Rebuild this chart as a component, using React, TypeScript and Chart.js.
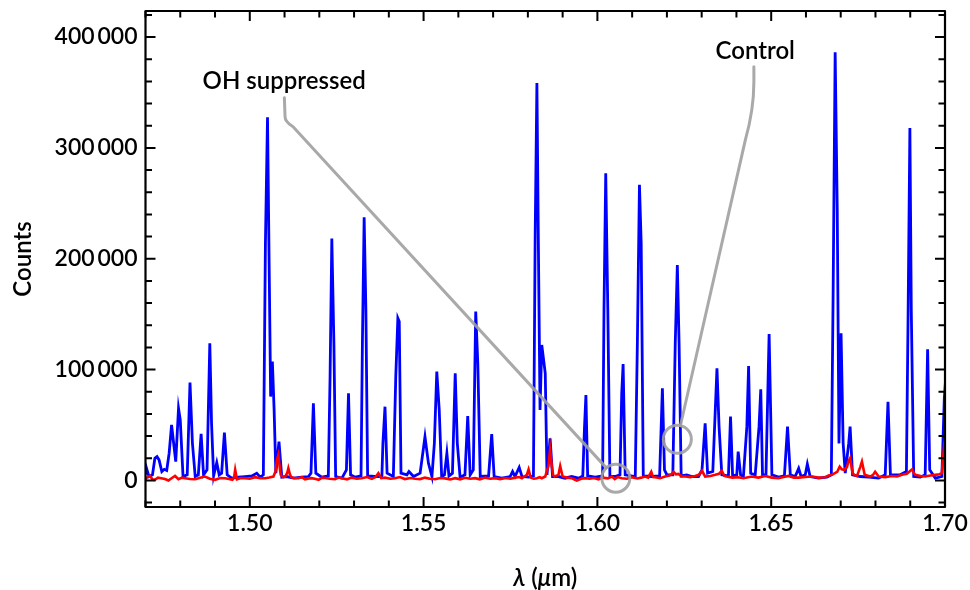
import React, { useEffect, useRef } from "react";
import { Chart, registerables } from "chart.js";
Chart.register(...registerables);

const xMin = 1.47;
const xMax = 1.7;
const yMin = -24000;
const yMax = 423500;
const xMajorTicks = [1.5, 1.55, 1.6, 1.65, 1.7];
const xMinorTicks = [1.47, 1.48, 1.49, 1.51, 1.52, 1.53, 1.54, 1.56, 1.57, 1.58, 1.59, 1.61, 1.62, 1.63, 1.64, 1.66, 1.67, 1.68, 1.69];
const yMajorTicks = [0, 100000, 200000, 300000, 400000];
const yMinorTicks = [-20000, 20000, 40000, 60000, 80000, 120000, 140000, 160000, 180000, 220000, 240000, 260000, 280000, 320000, 340000, 360000, 380000, 420000];

// Control (blue): [wavelength µm, counts]
const controlSpectrum: [number, number][] = [
  [1.469, 5000], [1.4699, 5000], [1.4703, 11000], [1.471, 3500], [1.472, 5000], [1.4727, 20000],
  [1.4733, 21500], [1.4739, 18500], [1.4747, 8000], [1.4754, 10000], [1.4761, 9000], [1.4768, 24500],
  [1.4775, 50000], [1.4781, 33500], [1.4787, 17000], [1.4795, 65000], [1.48, 54500], [1.4808, 3500],
  [1.482, 5000], [1.4828, 88300], [1.4835, 33500], [1.4843, 3500], [1.4852, 5000], [1.486, 42000],
  [1.4867, 5000], [1.4877, 9500], [1.4885, 123800], [1.489, 51600], [1.4896, 4000], [1.4905, 16100],
  [1.4912, 5000], [1.4919, 6500], [1.4927, 43200], [1.4935, 5000], [1.4948, 2000], [1.4967, 2900],
  [1.4986, 3500], [1.5006, 4000], [1.502, 6500], [1.503, 2900], [1.5039, 5000], [1.5045, 214000],
  [1.5051, 327700], [1.5055, 214000], [1.506, 75600], [1.5065, 107300], [1.507, 63600], [1.5075, 6500],
  [1.5084, 35000], [1.5092, 2900], [1.5106, 3500], [1.5126, 2000], [1.5149, 2900], [1.5169, 3500],
  [1.5176, 6500], [1.5183, 69500], [1.519, 6500], [1.5207, 2900], [1.5226, 4000], [1.5231, 93700],
  [1.5236, 218200], [1.5242, 123800], [1.5247, 3500], [1.5265, 2000], [1.5278, 9500], [1.5284, 78600],
  [1.529, 5000], [1.5303, 2900], [1.532, 4000], [1.5324, 123800], [1.5329, 237500], [1.5334, 153800],
  [1.5339, 4000], [1.536, 3500], [1.538, 3500], [1.5383, 33500], [1.5389, 66500], [1.5395, 6500],
  [1.5413, 3500], [1.542, 93700], [1.5426, 146300], [1.543, 143300], [1.5435, 6500], [1.5452, 5000],
  [1.5458, 8000], [1.5471, 3500], [1.549, 6500], [1.5504, 39400], [1.5514, 15400], [1.5524, 3500],
  [1.5531, 33500], [1.5538, 98100], [1.5545, 63600], [1.5552, 3500], [1.556, 5000], [1.5567, 24500],
  [1.5573, 4000], [1.5583, 6500], [1.5591, 96600], [1.5597, 33500], [1.5605, 2900], [1.5619, 5000],
  [1.5627, 58100], [1.5634, 5000], [1.5643, 9500], [1.565, 152300], [1.5656, 105700], [1.5663, 3500],
  [1.5687, 4000], [1.5696, 41800], [1.5703, 3500], [1.5725, 2000], [1.5749, 3500], [1.5756, 8000],
  [1.5763, 3500], [1.5775, 11700], [1.5783, 3500], [1.5802, 2900], [1.5816, 4000], [1.5821, 220000],
  [1.5826, 358500], [1.583, 220000], [1.5835, 63600], [1.584, 122200], [1.585, 96600], [1.5855, 5000],
  [1.5864, 37900], [1.5871, 3500], [1.5888, 3500], [1.5907, 2000], [1.5926, 3500], [1.5946, 2000],
  [1.5958, 4000], [1.5963, 48500], [1.5967, 77100], [1.5972, 4000], [1.5994, 2900], [1.6015, 4000],
  [1.6019, 153800], [1.6024, 277200], [1.603, 153800], [1.6036, 3500], [1.6051, 3500], [1.6065, 5000],
  [1.607, 78600], [1.6074, 105000], [1.608, 5000], [1.6109, 3500], [1.6115, 123800], [1.6121, 266700],
  [1.6126, 214000], [1.6132, 4000], [1.6157, 3500], [1.6179, 4000], [1.6187, 83100], [1.6193, 9500],
  [1.62, 5000], [1.6217, 5000], [1.6224, 123800], [1.623, 194400], [1.6235, 123800], [1.6241, 4000],
  [1.6257, 5000], [1.6272, 3500], [1.6291, 3500], [1.6301, 9500], [1.631, 51500], [1.6317, 6500],
  [1.6332, 8000], [1.6344, 101100], [1.635, 48500], [1.6358, 5000], [1.6377, 4000], [1.6383, 57500],
  [1.6389, 4000], [1.6401, 5000], [1.6405, 25900], [1.6412, 5000], [1.642, 3500], [1.643, 48500],
  [1.6435, 103200], [1.6441, 6500], [1.6454, 5000], [1.6465, 48500], [1.647, 82200], [1.6475, 5000],
  [1.6485, 5000], [1.6494, 132100], [1.6502, 5000], [1.6521, 2900], [1.6538, 4000], [1.6547, 48500],
  [1.6555, 5000], [1.6569, 3500], [1.6579, 10800], [1.6586, 3500], [1.6598, 5000], [1.6604, 14700],
  [1.6612, 3500], [1.6636, 2000], [1.666, 2900], [1.6673, 5000], [1.6678, 162800], [1.6684, 386200],
  [1.669, 244100], [1.6695, 33400], [1.6701, 132700], [1.6707, 33400], [1.6713, 6500], [1.6723, 33400],
  [1.6727, 48500], [1.6734, 5000], [1.6756, 3500], [1.678, 2900], [1.6809, 2000], [1.6828, 5000],
  [1.6836, 71000], [1.6843, 5000], [1.6871, 5000], [1.6889, 8000], [1.6894, 153800], [1.6899, 317900],
  [1.6903, 153800], [1.691, 3500], [1.6929, 2900], [1.6943, 5000], [1.695, 118300], [1.6956, 9500],
  [1.6972, 2000], [1.6991, 3500], [1.6998, 74000], [1.7006, 110000],
];

// OH suppressed (red): [wavelength µm, counts]
const suppressedSpectrum: [number, number][] = [
  [1.469, 1500], [1.4699, 1000], [1.4706, 3000], [1.4713, 4000], [1.472, 1000], [1.4727, 500],
  [1.4736, 2500], [1.4745, 2000], [1.4756, 1200], [1.4766, -150], [1.4776, 2200], [1.4785, 4000],
  [1.4795, 1000], [1.4805, 2500], [1.4814, 2000], [1.4828, 1200], [1.4843, 1000], [1.4857, 2400],
  [1.4871, 3500], [1.4885, 1500], [1.49, 500], [1.4915, 2200], [1.4929, 2000], [1.494, 1200],
  [1.495, 500], [1.4955, 3000], [1.4958, 9500], [1.4963, 1000], [1.4975, 2200], [1.4986, 2000],
  [1.5, 1500], [1.5015, 2900], [1.503, 2000], [1.5044, 2000], [1.5056, 2600], [1.5068, 3500],
  [1.5074, 8000], [1.5078, 18500], [1.5082, 23000], [1.5086, 12000], [1.5089, 5000], [1.5096, 3000],
  [1.5102, 3500], [1.5108, 7000], [1.5111, 11000], [1.5115, 6000], [1.5119, 2900], [1.513, 2000],
  [1.514, 2000], [1.515, 3000], [1.5159, 1000], [1.517, 1800], [1.5178, 2000], [1.519, 1200],
  [1.5198, 500], [1.5208, 2500], [1.5217, 2200], [1.523, 1500], [1.5245, 1000], [1.5255, 2600],
  [1.5265, 2000], [1.528, 1000], [1.5293, 2500], [1.5308, 1500], [1.5322, 2000], [1.5337, 3000],
  [1.5351, 1500], [1.5362, 3000], [1.537, 6500], [1.5378, 2000], [1.5389, 2500], [1.5404, 1500],
  [1.5418, 2000], [1.5432, 3000], [1.5446, 1200], [1.5462, 2200], [1.5476, 1500], [1.549, 1200],
  [1.5504, 2500], [1.5518, 1500], [1.5533, 1000], [1.5548, 2200], [1.5562, 1800], [1.5576, 800],
  [1.5591, 2000], [1.5605, 1000], [1.5619, 2400], [1.5634, 1500], [1.5648, 2000], [1.5662, 1000],
  [1.5677, 2500], [1.5692, 1500], [1.5706, 2000], [1.572, 1200], [1.5735, 2200], [1.575, 1500],
  [1.5763, 2500], [1.5775, 3000], [1.5783, 2000], [1.579, 3500], [1.5797, 5000], [1.5802, 9900],
  [1.5808, 2500], [1.5817, 1500], [1.5826, 2000], [1.5834, 3000], [1.584, 2000], [1.585, 3500],
  [1.5855, 9000], [1.5859, 12500], [1.5864, 28000], [1.5869, 12500], [1.5873, 4500], [1.5877, 3500],
  [1.5888, 5000], [1.5893, 12900], [1.59, 3500], [1.5913, 2500], [1.5926, 2000], [1.5934, 800],
  [1.5941, -200], [1.5953, 1500], [1.5965, 2000], [1.5978, 1500], [1.599, 2200], [1.6003, 1000],
  [1.6015, 2500], [1.603, 1800], [1.6042, 3500], [1.605, 1200], [1.6058, 3000], [1.607, 2000],
  [1.6085, 1500], [1.6099, 2900], [1.6115, 1800], [1.6126, 2500], [1.6137, 3500], [1.6146, 2500],
  [1.6155, 7800], [1.616, 3000], [1.6166, 2900], [1.618, 2000], [1.6195, 3500], [1.6207, 4500],
  [1.6213, 5500], [1.6219, 7800], [1.6226, 5500], [1.6233, 5900], [1.6243, 3500], [1.6253, 3500],
  [1.6267, 3000], [1.6281, 4000], [1.6292, 5000], [1.6301, 8700], [1.631, 3500], [1.6325, 4000],
  [1.6339, 5000], [1.635, 6000], [1.6358, 8700], [1.6365, 4000], [1.6372, 3500], [1.6388, 2500],
  [1.6405, 2900], [1.642, 2000], [1.6444, 3500], [1.6463, 2500], [1.6483, 4000], [1.6502, 2500],
  [1.6521, 2000], [1.6536, 3000], [1.655, 4000], [1.6565, 2500], [1.6579, 2500], [1.6598, 3000],
  [1.6617, 3500], [1.6636, 2500], [1.6655, 2900], [1.6665, 4500], [1.6675, 5000], [1.6683, 6500],
  [1.669, 7800], [1.6697, 12300], [1.6703, 10000], [1.671, 9500], [1.6718, 12000], [1.6722, 17000],
  [1.6727, 19900], [1.6734, 6500], [1.6741, 4500], [1.6747, 4000], [1.6756, 12000], [1.6761, 16900],
  [1.6769, 5000], [1.6785, 3500], [1.6793, 5000], [1.6799, 7800], [1.6809, 3500], [1.6828, 3000],
  [1.6847, 4000], [1.6862, 3500], [1.6876, 5000], [1.689, 6000], [1.6905, 9900], [1.6914, 5000],
  [1.693, 4000], [1.6943, 3500], [1.6958, 4500], [1.6972, 5000], [1.6984, 5500], [1.6991, 6500],
  [1.6998, 33400], [1.7006, 45000],
];

// Annotations in data coordinates
const ohLabelText = "OH suppressed";
const ohLabelAt: [number, number] = [1.5099, 360000];
const ohLeader: [number, number][] = [[1.50995, 345200], [1.51014, 328300], [1.51014, 323500], [1.51245, 319000]];
const ohCircleAt: [number, number] = [1.6053, 2000];
const controlLabelText = "Control";
const controlLabelAt: [number, number] = [1.6454, 387000];
const controlLeader: [number, number][] = [[1.64502, 373200], [1.64502, 359700], [1.64502, 334400], [1.64257, 307300]];
const controlCircleAt: [number, number] = [1.623, 37200];

const FONT = "Lato, 'Open Sans', sans-serif";
const WEIGHT = "600";
const GREY = "rgba(160,160,160,0.9)";
const CIRCLE_R = 14;

const decorPlugin = {
  id: "decor",
  afterDatasetsDraw(chart: any) {
    const { ctx, chartArea: a, scales } = chart;
    const xs = scales.x;
    const ys = scales.y;
    const px = (p: [number, number]) => [xs.getPixelForValue(p[0]), ys.getPixelForValue(p[1])];
    ctx.save();

    const drawLeader = (pts: [number, number][], circ: [number, number]) => {
      const [p0, p1, c, p3] = pts.map(px);
      const [cx, cy] = px(circ);
      const dx = cx - p3[0];
      const dy = cy - p3[1];
      const len = Math.hypot(dx, dy);
      const ex = cx - (dx / len) * CIRCLE_R;
      const ey = cy - (dy / len) * CIRCLE_R;
      ctx.strokeStyle = GREY;
      ctx.lineWidth = 3;
      ctx.lineCap = "round";
      ctx.lineJoin = "round";
      ctx.beginPath();
      ctx.moveTo(p0[0], p0[1]);
      ctx.lineTo(p1[0], p1[1]);
      ctx.quadraticCurveTo(c[0], c[1], p3[0], p3[1]);
      ctx.lineTo(ex, ey);
      ctx.stroke();
      ctx.beginPath();
      ctx.arc(cx, cy, CIRCLE_R, 0, Math.PI * 2);
      ctx.stroke();
    };
    drawLeader(ohLeader, ohCircleAt);
    drawLeader(controlLeader, controlCircleAt);

    ctx.fillStyle = "#000";
    ctx.font = `${WEIGHT} 24px ${FONT}`;
    ctx.textAlign = "center";
    ctx.textBaseline = "middle";
    const [ox, oy] = px(ohLabelAt);
    ctx.fillText(ohLabelText, ox, oy);
    const [cx2, cy2] = px(controlLabelAt);
    ctx.fillText(controlLabelText, cx2, cy2);

    // ticks (inward, all four sides)
    ctx.strokeStyle = "#000";
    ctx.lineWidth = 2;
    ctx.lineCap = "butt";
    const tickX = (v: number, len: number) => {
      const x = xs.getPixelForValue(v);
      ctx.beginPath();
      ctx.moveTo(x, a.bottom);
      ctx.lineTo(x, a.bottom - len);
      ctx.moveTo(x, a.top);
      ctx.lineTo(x, a.top + len);
      ctx.stroke();
    };
    const tickY = (v: number, len: number) => {
      const y = ys.getPixelForValue(v);
      ctx.beginPath();
      ctx.moveTo(a.left, y);
      ctx.lineTo(a.left + len, y);
      ctx.moveTo(a.right, y);
      ctx.lineTo(a.right - len, y);
      ctx.stroke();
    };
    xMinorTicks.forEach((v) => tickX(v, 6.5));
    xMajorTicks.forEach((v) => tickX(v, 10));
    yMinorTicks.forEach((v) => tickY(v, 6.5));
    yMajorTicks.forEach((v) => tickY(v, 10));

    ctx.lineWidth = 2.2;
    ctx.strokeRect(a.left, a.top, a.right - a.left, a.bottom - a.top);

    // axis titles
    ctx.fillStyle = "#000";
    ctx.textBaseline = "middle";
    ctx.save();
    ctx.translate(23, (a.top + a.bottom) / 2);
    ctx.rotate(-Math.PI / 2);
    ctx.textAlign = "center";
    ctx.font = `${WEIGHT} 24px ${FONT}`;
    ctx.fillText("Counts", 0, 0);
    ctx.restore();

    const parts: [string, boolean][] = [["λ", true], [" (", false], ["μ", true], ["m)", false]];
    let total = 0;
    const widths = parts.map(([t, it]) => {
      ctx.font = `${it ? "italic " : ""}${WEIGHT} 24px ${FONT}`;
      const w = ctx.measureText(t).width;
      total += w;
      return w;
    });
    let x0 = (a.left + a.right) / 2 - total / 2;
    ctx.textAlign = "left";
    parts.forEach(([t, it], i) => {
      ctx.font = `${it ? "italic " : ""}${WEIGHT} 24px ${FONT}`;
      ctx.fillText(t, x0, 578);
      x0 += widths[i];
    });
    ctx.restore();
  },
};

const fmtY = (v: number) => {
  if (v === 0) return "0";
  const s = String(Math.round(v));
  return s.slice(0, s.length - 3) + "\u2009" + s.slice(s.length - 3);
};

export default function App() {
  const ref = useRef<HTMLCanvasElement>(null);
  useEffect(() => {
    document.body.style.margin = "0";
    let chart: Chart | null = null;
    let cancelled = false;
    const make = () => {
      if (cancelled || !ref.current) return;
      chart = new Chart(ref.current, {
        type: "line",
        data: {
          datasets: [
            {
              label: "OH suppressed",
              data: suppressedSpectrum.map(([x, y]) => ({ x, y })),
              borderColor: "#ff0000",
              borderWidth: 2.6,
              pointRadius: 0,
              tension: 0,
              fill: false,
              clip: 0,
            },
            {
              label: "Control",
              data: controlSpectrum.map(([x, y]) => ({ x, y })),
              borderColor: "#0000ff",
              borderWidth: 2.8,
              pointRadius: 0,
              tension: 0,
              fill: false,
              clip: 0,
            },
          ],
        },
        options: {
          responsive: false,
          animation: false,
          devicePixelRatio: 1,
          layout: { padding: { left: 0, right: 25, top: 11, bottom: 0 } },
          plugins: { legend: { display: false }, tooltip: { enabled: false }, title: { display: false } },
          scales: {
            x: {
              type: "linear",
              min: xMin,
              max: xMax,
              grid: { display: false, drawTicks: false },
              border: { display: false },
              ticks: {
                color: "#000",
                font: { family: FONT, size: 23, weight: WEIGHT },
                padding: 3,
                maxRotation: 0,
                callback: (v: any) => Number(v).toFixed(2),
              },
              afterBuildTicks: (s: any) => {
                s.ticks = xMajorTicks.map((value) => ({ value }));
              },
              afterFit: (s: any) => {
                s.height = 83;
                s.paddingLeft = 0;
                s.paddingRight = 0;
                s.paddingTop = 0;
                s.paddingBottom = 0;
              },
            },
            y: {
              type: "linear",
              min: yMin,
              max: yMax,
              grid: { display: false, drawTicks: false },
              border: { display: false },
              ticks: {
                color: "#000",
                font: { family: FONT, size: 23, weight: WEIGHT },
                padding: 8,
                callback: (v: any) => fmtY(Number(v)),
              },
              afterBuildTicks: (s: any) => {
                s.ticks = yMajorTicks.map((value) => ({ value }));
              },
              afterFit: (s: any) => {
                s.width = 145.5;
                s.paddingLeft = 0;
                s.paddingRight = 0;
                s.paddingTop = 0;
                s.paddingBottom = 0;
              },
            },
          },
        },
        plugins: [decorPlugin],
      } as any);
    };
    const fonts: any = (document as any).fonts;
    if (fonts && fonts.load) {
      Promise.all([fonts.load(`${WEIGHT} 24px Lato`), fonts.load(`italic ${WEIGHT} 24px Lato`)]).then(make, make);
    } else {
      make();
    }
    return () => {
      cancelled = true;
      if (chart) chart.destroy();
    };
  }, []);
  return (
    <div style={{ width: 970, height: 590, background: "#fff" }}>
      <canvas ref={ref} width={970} height={590} style={{ display: "block" }} />
    </div>
  );
}
